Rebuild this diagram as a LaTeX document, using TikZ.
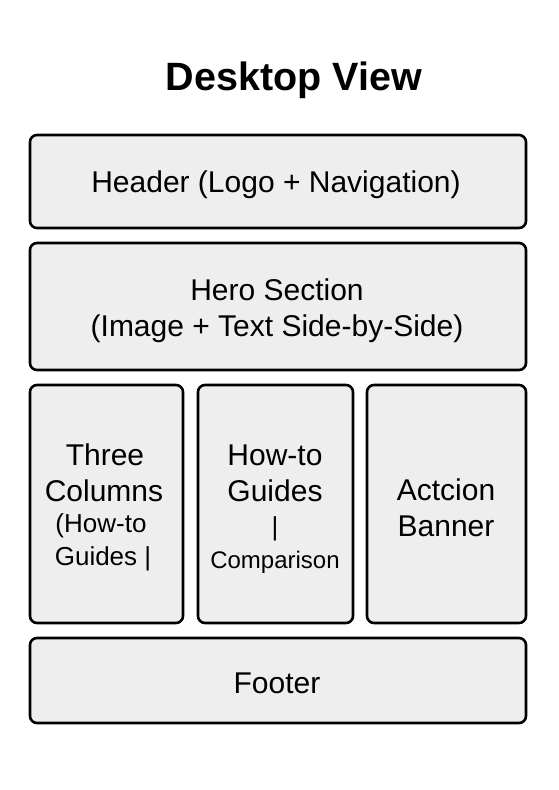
\documentclass[tikz,border=0pt]{standalone}
\usepackage{fontspec}
\setmainfont{Liberation Sans}
\begin{document}
\begin{tikzpicture}[x=1pt,y=-1pt,
  panel/.style={draw=black,line width=2.6pt,rounded corners=7pt,fill=panelgray,inner sep=0pt},
  big/.style={font=\fontsize{30}{34}\selectfont,inner sep=0pt,yshift=-2pt},
  small/.style={font=\fontsize{26}{30}\selectfont,inner sep=0pt,yshift=-2pt},
  tiny/.style={font=\fontsize{24}{28}\selectfont,inner sep=0pt,yshift=-2pt},
  title/.style={font=\bfseries\fontsize{39.5}{44}\selectfont,inner sep=0pt,yshift=-2pt}]
\definecolor{panelgray}{HTML}{EEEEEE}
\useasboundingbox[fill=white] (0,0) rectangle (558,790);
% title
\node[title] (ttl) at (294,78) {Desktop View};
% layout panels
\node[panel,minimum width=496pt,minimum height=93pt] (hdr) at (278,181.5) {};
\node[panel,minimum width=496pt,minimum height=127pt] (hero) at (278,306.5) {};
\node[panel,minimum width=153pt,minimum height=238pt] (c1) at (106.5,504) {};
\node[panel,minimum width=155pt,minimum height=238pt] (c2) at (275.5,504) {};
\node[panel,minimum width=159pt,minimum height=238pt] (c3) at (446.5,504) {};
\node[panel,minimum width=496pt,minimum height=85pt] (ftr) at (278,680.5) {};
% panel texts
\node[big] (thdr) at (276,183) {Header (Logo + Navigation)};
\node[big] (thero1) at (277,288) {Hero Section};
\node[big] (thero2) at (277,327) {(Image + Text Side-by-Side)};
\node[big] (ta1) at (105,453) {Three};
\node[big] (ta2) at (104,489) {Columns};
\node[small] (ta3) at (101,524) {(How-to};
\node[small] (ta4) at (103,557) {Guides |};
\node[big] (tb1) at (275,453) {How-to};
\node[big] (tb2) at (275,489) {Guides};
\node[small] (tb3) at (275,527) {|};
\node[tiny] (tb4) at (275,560) {Comparison};
\node[big] (tc1) at (446,488) {Actcion};
\node[big] (tc2) at (446,524) {Banner};
\node[big] (tftr) at (277,681) {Footer};
\end{tikzpicture}
\end{document}
